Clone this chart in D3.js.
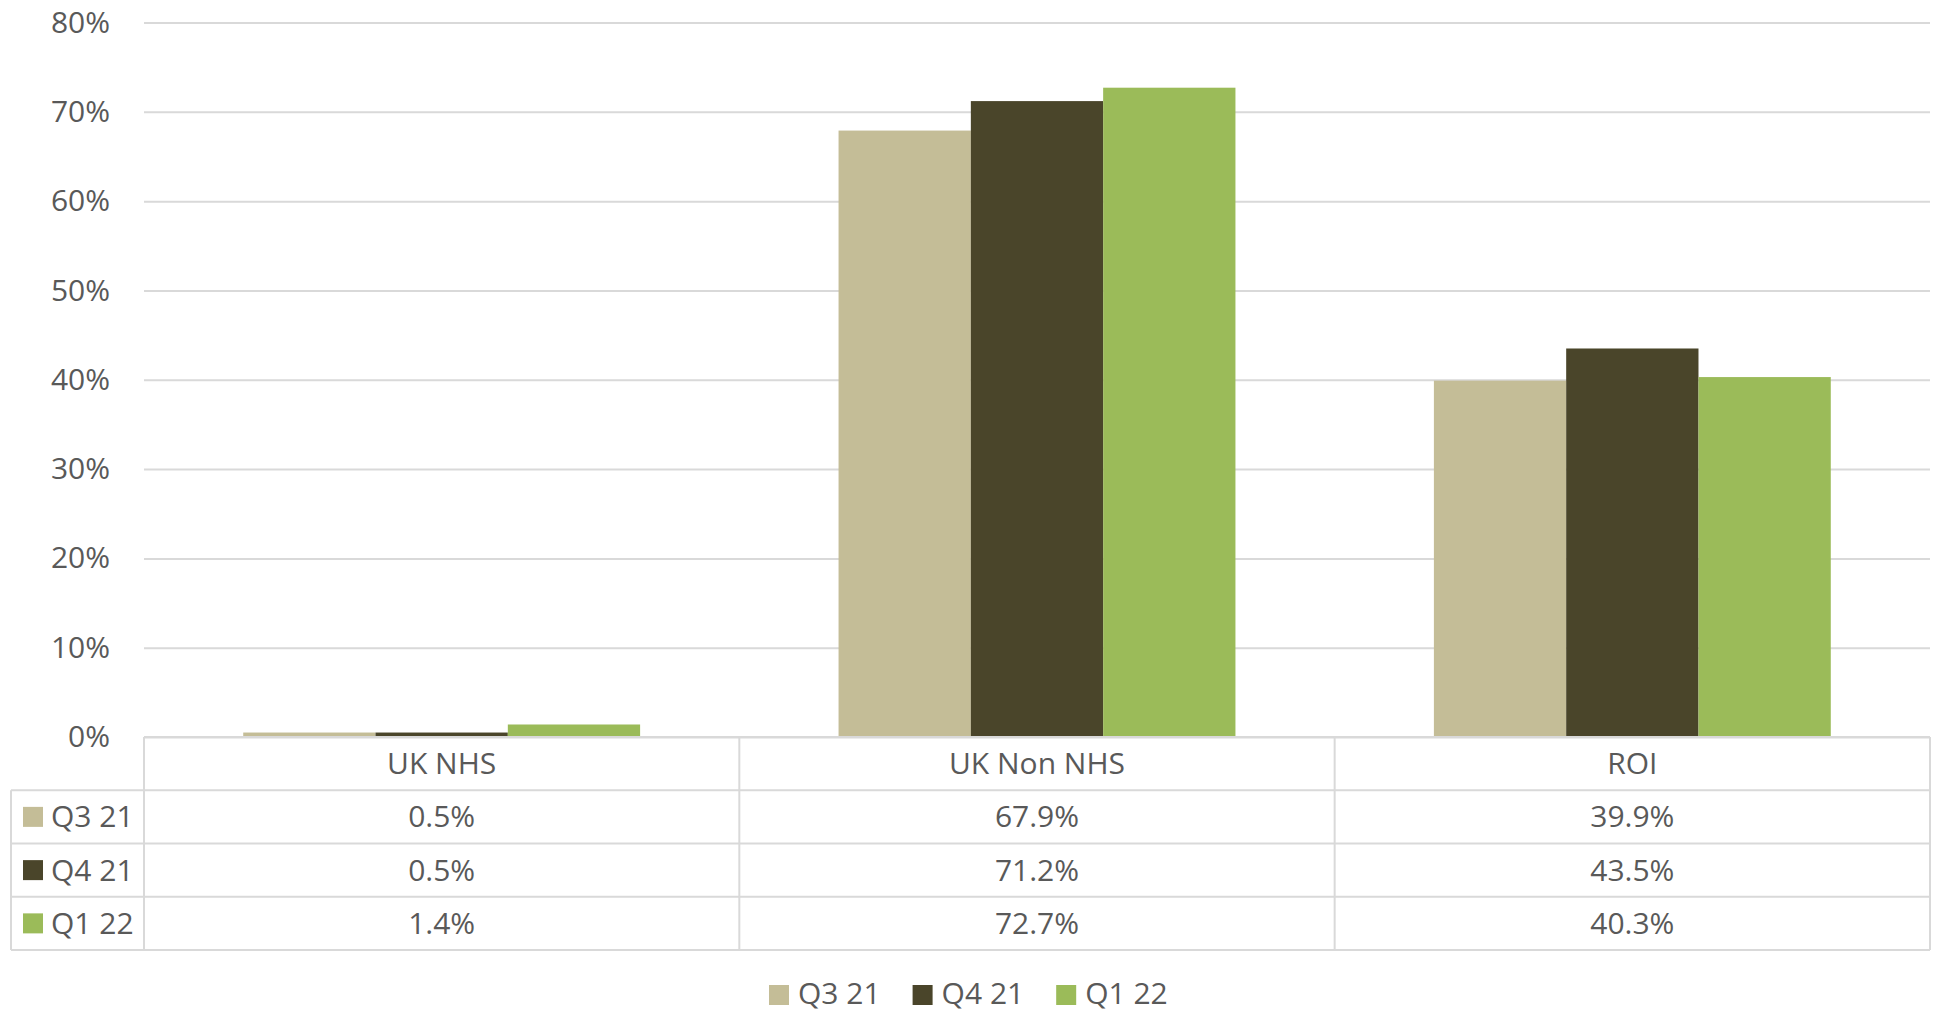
<!DOCTYPE html>
<html>
<head>
<meta charset="utf-8">
<script src="https://cdn.jsdelivr.net/npm/d3@7"></script>
<style>
  body { margin: 0; background: #fff; }
  svg text { font-family: "Open Sans", sans-serif; font-size: 30px; fill: #595959; }
</style>
</head>
<body>
<svg id="chart" width="1934" height="1011"></svg>
<script>
const categories = ['UK NHS', 'UK Non NHS', 'ROI'];
const seriesNames = ['Q3 21', 'Q4 21', 'Q1 22'];
const q321 = [0.005, 0.679, 0.399];
const q421 = [0.005, 0.712, 0.435];
const q122 = [0.014, 0.727, 0.403];
const yTicks = [0, 0.1, 0.2, 0.3, 0.4, 0.5, 0.6, 0.7, 0.8];
const colors = ['#c4bd97', '#4a452a', '#9bbb59'];

const seriesValues = [q321, q421, q122];

const svg = d3.select('#chart');
const plotLeft = 144, plotRight = 1930, plotTop = 22.5, base = 737, tableBottom = 950;
const gridColor = '#d9d9d9';

const x0 = d3.scaleBand().domain(categories).range([plotLeft, plotRight]).padding(0);
const x1 = d3.scaleBand().domain(seriesNames)
    .range([x0.bandwidth() / 6, x0.bandwidth() * 5 / 6]);
const y = d3.scaleLinear().domain([0, 0.8]).range([base, plotTop]);

// gridlines + y labels
const yAxis = d3.axisLeft(y)
    .tickValues(yTicks)
    .tickFormat(d3.format('.0%'))
    .tickSize(-(plotRight - plotLeft))
    .tickPadding(34);

const gy = svg.append('g')
    .attr('transform', 'translate(' + plotLeft + ',0)')
    .call(yAxis);
gy.select('.domain').remove();
gy.selectAll('.tick line').attr('stroke', gridColor).attr('stroke-width', 2);
gy.selectAll('.tick text')
    .style('font-size', '30px')
    .attr('fill', '#595959');

// bars
const groups = svg.append('g').selectAll('g')
    .data(seriesNames)
    .enter()
    .append('g')
    .attr('fill', (d, i) => colors[i]);

groups.selectAll('rect')
    .data((s, i) => categories.map((c, j) => ({ cat: c, series: s, value: seriesValues[i][j] })))
    .enter()
    .append('rect')
    .attr('x', d => x0(d.cat) + x1(d.series))
    .attr('y', d => y(d.value))
    .attr('width', x1.bandwidth())
    .attr('height', d => base - y(d.value));

// data table
const rows = d3.scaleBand().domain(['header'].concat(seriesNames)).range([base, tableBottom]);
const labelLeft = 11;
const table = svg.append('g').attr('stroke', gridColor).attr('stroke-width', 2);

// horizontal lines
table.append('line').attr('x1', plotLeft).attr('x2', plotRight).attr('y1', base).attr('y2', base);
seriesNames.forEach(s => {
  table.append('line').attr('x1', labelLeft).attr('x2', plotRight)
      .attr('y1', rows(s)).attr('y2', rows(s));
});
table.append('line').attr('x1', labelLeft).attr('x2', plotRight)
    .attr('y1', tableBottom).attr('y2', tableBottom);

// vertical lines
table.append('line').attr('x1', labelLeft).attr('x2', labelLeft)
    .attr('y1', rows(seriesNames[0])).attr('y2', tableBottom);
categories.forEach(c => {
  table.append('line').attr('x1', x0(c)).attr('x2', x0(c)).attr('y1', base).attr('y2', tableBottom);
});
table.append('line').attr('x1', plotRight).attr('x2', plotRight).attr('y1', base).attr('y2', tableBottom);

const fmt = d3.format('.1%');

// header
svg.append('g').selectAll('text')
    .data(categories)
    .enter()
    .append('text')
    .attr('x', d => x0(d) + x0.bandwidth() / 2)
    .attr('y', rows('header') + rows.bandwidth() / 2)
    .attr('dy', '0.35em')
    .attr('text-anchor', 'middle')
    .text(d => d);

// rows
seriesNames.forEach((s, i) => {
  const cy = rows(s) + rows.bandwidth() / 2;
  svg.append('rect')
      .attr('x', 23).attr('y', cy - 10)
      .attr('width', 20).attr('height', 20)
      .attr('fill', colors[i]);
  svg.append('text')
      .attr('x', 51).attr('y', cy).attr('dy', '0.35em')
      .text(s);
  svg.append('g').selectAll('text')
      .data(seriesValues[i])
      .enter()
      .append('text')
      .attr('x', (d, j) => x0(categories[j]) + x0.bandwidth() / 2)
      .attr('y', cy)
      .attr('dy', '0.35em')
      .attr('text-anchor', 'middle')
      .text(d => fmt(d));
});

// legend
const legend = svg.append('g');
let lx = 769;
const ly = 993;
seriesNames.forEach((s, i) => {
  legend.append('rect')
      .attr('x', lx).attr('y', ly - 8)
      .attr('width', 20).attr('height', 20)
      .attr('fill', colors[i]);
  const t = legend.append('text')
      .attr('x', lx + 29).attr('y', ly).attr('dy', '0.35em')
      .text(s);
  lx += 29 + t.node().getComputedTextLength() + 32;
});
</script>
</body>
</html>
